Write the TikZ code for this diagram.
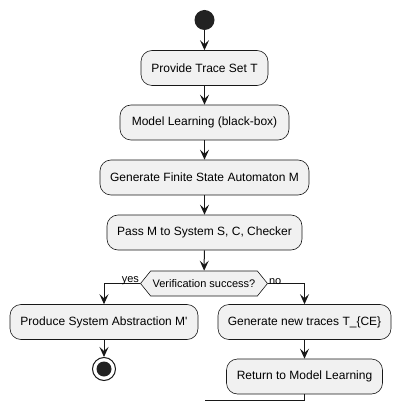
\documentclass[tikz,border=0pt]{standalone}
\usepackage{fontspec}
\newfontfamily\lsans{Liberation Sans}
\usetikzlibrary{arrows.meta,shapes.symbols}
\definecolor{boxfill}{HTML}{F1F1F1}
\definecolor{ink}{HTML}{181818}
\definecolor{dot}{HTML}{222222}
\tikzset{
  actbox/.style={draw=ink, fill=boxfill, rounded corners=11pt, line width=0.6pt,
    minimum height=35pt, inner xsep=4pt, font=\lsans\fontsize{12}{14}\selectfont, text=black},
  hexnode/.style={draw=ink, fill=boxfill, line width=0.6pt, shape=signal,
    signal to=east and west, signal pointer angle=102, minimum height=25pt,
    inner xsep=2pt, inner ysep=2pt, font=\lsans\fontsize{11}{13}\selectfont},
  flow/.style={draw=ink, line width=1pt, -{Stealth[length=10pt,width=9pt,inset=4pt]}},
  plain/.style={draw=ink, line width=1pt},
  lbl/.style={font=\lsans\fontsize{11}{13}\selectfont, inner sep=0pt}
}
\begin{document}
\begin{tikzpicture}[x=1pt,y=-1pt]
\useasboundingbox (0,0) rectangle (401,411);
\node[circle, fill=dot, minimum size=20pt, inner sep=0pt] (start) at (204.5,20) {};
\node[actbox, minimum width=127pt] (b1) at (204.5,68) {Provide Trace Set T};
\node[actbox, minimum width=169pt] (b2) at (204.5,122.5) {Model Learning (black-box)};
\node[actbox, minimum width=209pt] (b3) at (204.5,177.5) {Generate Finite State Automaton M};
\node[actbox, minimum width=195pt] (b4) at (204.5,232.5) {Pass M to System S, C, Checker};
\node[hexnode, minimum width=124pt] (dec) at (204,283.5) {Verification success?};
\node[actbox, minimum width=188pt] (b5) at (104,322) {Produce System Abstraction M'};
\node[actbox, minimum width=173pt] (b6) at (304.5,322) {Generate new traces T\_\{CE\}};
\node[actbox, minimum width=156pt] (b7) at (304.5,376.5) {Return to Model Learning};
\node[circle, draw=ink, line width=1pt, fill=white, minimum size=23pt, inner sep=0pt] (stop) at (104,369) {};
\node[circle, fill=dot, minimum size=15pt, inner sep=0pt] at (stop.center) {};
\coordinate (loopend) at (204.5,400.5);

\draw[flow] (start) -- (b1);
\draw[flow] (b1) -- (b2);
\draw[flow] (b2) -- (b3);
\draw[flow] (b3) -- (b4);
\draw[flow] (b4) -- (dec);
\draw[flow] (dec.west) -| (b5.north);
\draw[flow] (dec.east) -| (b6.north);
\draw[flow] (b5) -- (stop);
\draw[flow] (b6) -- (b7);
\draw[plain] (b7.south) |- (loopend);
\node[lbl, anchor=south east] at ([xshift=-1pt,yshift=-1pt]dec.west) {yes};
\node[lbl, anchor=south west] at ([xshift=1pt,yshift=-1pt]dec.east) {no};
\end{tikzpicture}
\end{document}
